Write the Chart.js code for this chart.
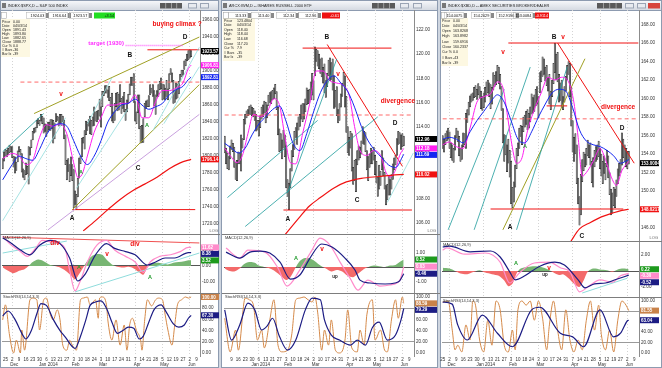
<!DOCTYPE html>
<html>
<head>
<meta charset="utf-8">
<script src="https://cdn.jsdelivr.net/npm/chart.js@4.4.1/dist/chart.umd.min.js"></script>
<style>
  html, body { margin: 0; padding: 0; }
  body { width: 662px; height: 368px; overflow: hidden; position: relative; background: #cfd6e0; }
  canvas { position: absolute; }
</style>
</head>
<body>
<canvas id="chrome" width="662" height="368" style="left:0;top:0;width:662px;height:368px"></canvas>
<script>
// ---------- tick labels ----------
const weeksA = ['25','2','9','16','23','30','6','13','21','27','3','10','18','24','3','10','17','24','31','7','14','21','28','5','12','19','27','2','9'];
const monthsA = ['','Dec','','','','','Jan 2014','','','','Feb','','','','Mar','','','','','Apr','','','','May','','','','Jun',''];
const weeksB = ['9','16','23','30','6','13','21','27','3','10','18','24','3','10','17','24','31','7','14','21','28','5','12','19','27','2','9'];
const monthsB = ['','','','','Jan 2014','','','','Feb','','','','Mar','','','','','Apr','','','','May','','','','Jun',''];
const spxTicks = [1720,1740,1760,1780,1800,1820,1840,1860,1880,1900,1920,1940,1960];
const iwmTicks = [106,108,110,112,114,116,118,120,122];
const xbdTicks = [146,148,150,152,154,156,158,160,162,164,166,168];
const stochTicks = [0,20,40,60,80,100];

// ---------- S&P 500 (day 0 = 21 Nov 2013) ----------
const spxHigh = [1797,1805,1808,1807,1809,1813,1811,1811,1800,1799,1793,1806,1811,1808,1803,1785,1783,1792,1788,1811,
  1810,1819,1829,1833,1834,1842,1844,1842,1849,1847,1845,1838,1837,1840,1840,1843,1843,1842,1839,1850,
  1847,1846,1849,1849,1847,1842,1825,1795,1797,1790,1799,1790,1784,1759,1755,1774,1798,1800,1821,1822,
  1830,1841,1840,1843,1847,1842,1846,1858,1852,1853,1854,1867,1858,1876,1876,1883,1883,1878,1882,1869,
  1874,1852,1862,1874,1875,1873,1884,1868,1870,1875,1855,1866,1873,1885,1893,1893,1897,1864,1852,1872,
  1872,1835,1836,1844,1862,1865,1866,1871,1884,1880,1884,1877,1872,1877,1884,1888,1892,1885,1884,1880,
  1889,1879,1897,1903,1898,1889,1878,1886,1885,1888,1896,1901,1901,1912,1914,1920,1924,1925,1924];
const spxLow = [1785,1794,1800,1799,1802,1804,1805,1798,1787,1780,1783,1793,1805,1801,1781,1775,1772,1778,1779,1767,
  1801,1810,1819,1827,1828,1833,1838,1836,1841,1838,1827,1829,1823,1828,1831,1830,1832,1815,1820,1840,
  1842,1835,1838,1836,1840,1820,1790,1772,1782,1770,1777,1771,1739,1743,1737,1752,1774,1791,1799,1815,
  1808,1825,1830,1835,1826,1825,1835,1836,1841,1840,1843,1847,1834,1858,1871,1874,1874,1869,1865,1858,
  1841,1839,1842,1858,1853,1854,1864,1850,1856,1852,1842,1852,1862,1872,1883,1883,1863,1841,1838,1851,
  1832,1815,1816,1816,1846,1856,1858,1858,1872,1874,1870,1859,1849,1870,1870,1878,1879,1866,1867,1866,
  1870,1866,1879,1896,1887,1862,1863,1867,1868,1873,1888,1893,1895,1902,1906,1912,1913,1915,1917];
const spxClose = 1923.57;
const spxMa10 = [[0,1797],[2,1799],[7,1803],[12,1800],[17,1790],[22,1795],[27,1822],[32,1837],[37,1835],[42,1838],[47,1826],[52,1792],[55,1775],[58,1778],[62,1800],[67,1828],[72,1845],[77,1860],[82,1860],[87,1862],[92,1862],[97,1872],[102,1845],[107,1845],[112,1864],[117,1877],[122,1877],[127,1880],[132,1886],[136,1903],[138,1906.81]];
const spxMa20 = [[0,1772],[7,1790],[12,1800],[17,1797],[22,1795],[27,1808],[32,1825],[37,1835],[42,1838],[47,1835],[52,1818],[57,1800],[62,1790],[67,1800],[72,1818],[77,1840],[82,1852],[87,1860],[92,1862],[97,1867],[102,1860],[107,1855],[112,1858],[117,1862],[122,1872],[127,1878],[132,1882],[136,1890],[138,1892.81]];
const spxMa200 = [[59,1712],[68,1724],[77,1737],[86,1749],[96,1760],[104,1767],[113,1775],[122,1785],[130,1792],[138,1796.14]];
const spxMacd = [[0,18.7],[5,14],[13,9],[18,6],[24,11],[29,16],[36,15],[42,14],[46,10],[49,-2.5],[53,-15.6],[57,-9],[62,2.5],[69,13],[76,16],[82,10],[90,6],[97,2.5],[103,-4],[108,2.5],[115,6],[123,7],[130,9],[136,11.62],[138,11.62]];
const spxSignal = [[0,17.5],[5,15],[13,10],[20,7],[27,13],[35,16],[42,14],[49,5],[55,-9.4],[60,-5.6],[68,7],[76,14],[82,11],[90,9],[97,7],[106,0.6],[112,2.5],[119,5],[126,5],[136,8.38],[138,8.38]];
const spxHist = [[0,-1],[4,-3],[8,-4.5],[12,-3],[16,-2],[19,0],[22,2.5],[26,4],[30,3],[34,1],[38,0],[42,-1],[46,-3],[50,-6],[53,-8.5],[56,-5],[59,-1],[61,2],[65,6],[69,7.5],[73,7],[76,4],[80,1],[84,-0.5],[88,-1],[92,-0.5],[96,-1.5],[100,-4],[103,-5.5],[106,-1],[109,1.5],[113,2],[117,1.5],[121,1],[125,2],[129,2.5],[133,3],[136,3.52],[138,3.52]];
const spxK = [[0,59],[2,86],[5,32],[8,0],[10,23],[13,0],[14,41],[16,5],[20,95],[22,98],[25,95],[27,41],[30,95],[32,98],[35,68],[37,59],[40,77],[42,59],[44,14],[47,5],[49,23],[51,14],[54,5],[57,95],[59,98],[62,100],[64,86],[68,95],[70,62],[71,98],[73,100],[76,86],[77,59],[80,23],[83,59],[86,14],[89,50],[91,5],[93,50],[95,62],[98,40],[101,23],[102,5],[104,59],[106,95],[109,84],[112,95],[114,98],[117,95],[119,68],[121,41],[124,14],[126,50],[128,86],[131,95],[134,100],[136,98],[138,100]];
const spxD = [[0,66],[4,75],[9,60],[14,35],[17,25],[21,40],[25,70],[28,88],[32,85],[37,60],[42,40],[46,28],[50,14],[53,8],[57,30],[61,60],[64,85],[68,91],[72,93],[76,80],[80,55],[84,35],[88,40],[92,46],[96,44],[100,25],[103,30],[107,55],[111,78],[116,86],[120,72],[125,52],[129,46],[133,50],[136,62],[138,67.3]];
const spxLines = {
  olive: [[[23,1850],[144,1940]], [[51,1737],[144,1884]]],
  lilac: [[[33,1713],[144,1849]]],
  teal: [[[0,1805],[30,1850]]],
  cyan: [[[0,1724],[46,1845]], [[54,1762],[92,1856]], [[62,1838],[80,1892]], [[110,1830],[144,1928]], [[118,1838],[144,1905]]],
  red: [[[106,1925],[144,1925]], [[51,1737],[141,1737]]],
  dash: [[[13,1887],[144,1887]]],
  target: [[[90,1930],[132,1930]]]
};
const spxMacdLines = { red: [[[0,18.1],[144,14.4]]], cyan: [[[0,8.1],[47,15.6]], [[53,-16.2],[144,8.1]]] };
const spxNotes = [
  {t:'buying climax ?', i:127.7, v:1955, k:'big'}, {t:'target (1930)', i:75.7, v:1932, k:'tgt'},
  {t:'D', i:133.5, v:1940, k:'let'}, {t:'B', i:93.2, v:1919, k:'let'}, {t:'v', i:42.7, v:1873, k:'red'},
  {t:'A', i:57.4, v:1781, k:'grn'}, {t:'A', i:105.7, v:1836, k:'grn'}, {t:'C', i:99.1, v:1786, k:'let'},
  {t:'A', i:50.8, v:1727, k:'let'}];
const spxMacdNotes = [
  {t:'div', i:38.3, v:14.4, k:'red'}, {t:'div', i:96.9, v:13.8, k:'red'}, {t:'v', i:76.4, v:7.5, k:'red'},
  {t:'A', i:55.9, v:-1.2, k:'grn'}, {t:'A', i:107.9, v:-7.5, k:'grn'}];

// ---------- iShares Russell 2000 (day 0 = 2 Dec 2013) ----------
const iwmHigh = [113.2,112.2,111.8,111.5,112.4,112.9,112.6,112.3,111.0,111.2,
  111.9,111.8,113.3,113.0,114.6,115.0,115.3,115.4,115.7,115.8,
  115.6,115.5,115.3,115.0,114.5,114.5,114.9,115.6,115.8,116.1,
  116.0,115.8,116.6,116.8,116.9,117.0,117.2,117.5,116.9,115.6,
  113.8,113.4,112.9,113.7,113.3,112.4,109.6,109.3,110.5,112.0,
  112.5,113.6,113.9,114.3,114.8,115.0,115.8,115.9,115.9,116.3,
  117.2,117.0,117.1,117.7,118.4,117.8,120.6,120.4,120.3,120.0,
  119.6,119.7,118.9,119.2,117.8,118.4,119.5,119.7,119.3,119.6,
  118.2,117.0,117.3,115.4,115.9,116.7,117.6,118.5,118.2,116.5,
  114.0,113.1,113.6,113.4,110.6,111.2,111.3,112.0,112.4,112.3,
  112.8,114.0,113.6,113.5,112.0,111.5,111.7,112.2,112.0,112.3,
  111.6,111.1,109.8,110.8,110.3,112.0,111.4,110.2,109.1,109.2,
  109.9,109.6,110.0,110.9,111.4,111.6,113.0,113.6,113.5,113.3,113.4,113.2];
const iwmLow = [111.8,110.9,110.5,110.4,111.3,112.1,111.9,110.6,109.6,109.5,
  110.9,110.9,110.3,112.2,112.9,114.2,114.7,114.9,115.0,115.0,
  114.9,114.8,114.5,113.6,113.7,113.2,113.9,114.6,114.8,115.1,
  114.3,114.7,115.7,116.0,115.9,116.2,116.3,116.7,115.4,113.3,
  111.9,112.0,111.3,112.2,111.5,108.9,108.2,107.1,108.9,110.3,
  111.5,112.1,113.1,112.5,113.7,114.0,114.6,114.4,114.6,115.2,
  115.8,115.9,116.0,116.2,116.6,116.2,118.2,119.4,119.0,118.8,
  118.4,118.1,117.6,116.8,116.4,117.3,118.2,117.8,117.9,117.0,
  115.5,115.6,114.9,114.3,114.5,115.6,116.5,117.4,115.6,113.5,
  111.8,111.6,112.2,110.3,109.2,109.5,108.6,110.8,111.2,111.4,
  111.7,112.6,112.5,111.9,110.4,109.5,110.6,110.9,110.9,111.2,
  110.0,109.3,108.2,108.8,109.1,110.4,109.9,108.8,107.5,107.9,
  108.3,108.3,108.8,109.6,110.4,110.8,111.6,112.5,112.6,112.1,112.3,112.4];
const iwmClose = 112.96;
const iwmMaFast = [[0,112.2],[4,111.6],[9,111.0],[13,111.6],[17,113.4],[21,115.0],[26,114.8],[31,115.2],[36,116.3],[40,115.8],[44,113.2],[48,111.0],[52,110.9],[57,113.4],[62,115.8],[67,118.6],[72,118.6],[77,117.8],[82,117.6],[87,117.4],[91,116.6],[95,114.0],[99,112.0],[104,111.6],[109,112.0],[114,111.6],[118,110.2],[121,109.8],[125,110.4],[128,111.6],[131,112.18]];
const iwmMaSlow = [[0,112.6],[5,112.2],[10,111.8],[15,112.2],[20,113.3],[25,114.2],[30,114.8],[35,115.4],[40,115.7],[45,114.4],[50,112.6],[55,112.0],[60,113.4],[65,115.2],[70,116.8],[75,117.8],[80,118.2],[85,117.6],[90,116.9],[95,115.6],[100,114.0],[105,112.8],[110,112.0],[115,111.4],[120,110.8],[125,110.6],[131,111.69]];
const iwmMa200 = [[44,105.0],[55,106.5],[62,107.4],[70,108.1],[80,108.9],[89,109.4],[100,109.7],[113,109.85],[122,109.95],[131,110.02]];
const iwmMacd = [[1,1.31],[11,0.62],[17,1.17],[29.5,1.03],[39,-0.07],[45.6,-1.31],[55,-0.2],[63.9,1.17],[69.7,2.0],[77,1.52],[84.4,0.34],[91.7,-0.76],[97.5,-1.59],[104.8,-0.9],[113.6,-1.31],[120.9,-1.24],[128.2,-0.9],[131,0.03]];
const iwmSignal = [[1,1.03],[11,0.62],[18.5,1.03],[26,1.1],[33,0.97],[40.5,0.34],[48,-0.83],[55,-0.55],[62.4,0.62],[71,1.59],[78.5,1.38],[88,0.62],[95.3,-0.2],[99,-0.9],[106.3,-1.1],[117.3,-1.17],[124.6,-1.1],[128,-0.95],[131,-0.46]];
const iwmHist = [[0,-0.1],[3,-0.25],[7,-0.3],[11,-0.1],[14,0.2],[18,0.35],[22,0.3],[25,0.1],[29,0],[33,-0.1],[37,-0.3],[41,-0.6],[45,-0.9],[48,-0.7],[51,-0.2],[54,0.3],[58,0.6],[62,0.6],[66,0.4],[70,0.1],[74,-0.1],[78,-0.3],[82,-0.2],[86,-0.3],[90,-0.6],[94,-0.7],[97,-0.5],[101,-0.2],[105,0],[109,0.1],[113,0.05],[117,0],[121,0.1],[125,0.15],[128,0.35],[131,0.52]];
const iwmK = [[0,62],[4,2],[8,41],[10,5],[15,98],[18,95],[21,86],[24,23],[27,41],[29,9],[33,59],[36,95],[39,14],[42,2],[46,5],[49,32],[52,95],[55,98],[58,100],[61,95],[64,91],[66,100],[68,73],[71,5],[73,41],[76,14],[78,59],[81,5],[84,0],[88,23],[90,77],[93,9],[97,2],[99,41],[102,14],[104,68],[108,95],[110,23],[114,41],[117,5],[119,2],[122,59],[125,95],[127,62],[130,100],[131,88.59]];
const iwmD = [[0,77],[5,23],[11,50],[17,89],[22,77],[27,41],[31,48],[35,62],[40,30],[46,5],[52,23],[59,77],[64,98],[70,95],[73,59],[78,32],[84,23],[92,14],[97,23],[103,14],[108,45],[113,55],[119,23],[125,32],[129,59],[131,79.29]];
const iwmLines = {
  teal: [[[2,108.1],[68,114.5]], [[15,105.7],[112,114.8]], [[46,108.5],[82,119.6]]],
  cyan: [[[119,107.7],[138,111.8]]],
  red: [[[57,120.5],[122,120.5]], [[43,107.07],[137,107.07]], [[75,120.8],[130,110.7]]],
  dash: [[[0,114.95],[138,114.95]]]
};
const iwmNotes = [
  {t:'B', i:74.8, v:121.4, k:'let'}, {t:'v', i:82.9, v:118.35, k:'red'}, {t:'divergence', i:126.8, v:116.1, k:'big'},
  {t:'D', i:124.6, v:114.3, k:'let'}, {t:'C', i:96.8, v:107.9, k:'let'}, {t:'A', i:46.3, v:106.3, k:'let'}];
const iwmMacdNotes = [{t:'A', i:52.2, v:0.62, k:'grn'}, {t:'v', i:71.2, v:1.24, k:'red'}, {t:'up', i:80.7, v:-0.69, k:'sml'}];

// ---------- AMEX broker/dealer index (day 0 = 25 Nov 2013) ----------
const xbdHigh = [156.0,155.6,156.2,156.5,156.8,156.4,155.2,155.0,154.6,156.0,
  156.8,156.5,155.9,154.6,155.0,156.3,156.2,158.4,158.8,159.6,
  160.3,160.5,160.6,161.2,161.4,161.0,161.6,161.3,160.8,160.2,
  160.6,161.2,161.8,162.0,161.7,161.5,161.2,162.8,162.5,162.9,
  163.6,163.4,162.6,161.3,158.9,156.1,156.0,155.0,155.6,154.4,
  153.2,150.4,151.0,152.8,154.6,155.2,156.8,157.1,157.0,158.0,
  158.2,158.6,158.8,158.4,159.1,160.5,160.1,160.4,161.0,161.3,
  160.2,162.8,163.0,164.5,164.3,163.4,163.6,162.3,162.6,160.8,
  162.0,163.8,166.0,164.8,165.0,162.6,161.7,162.0,160.2,161.3,
  162.4,163.6,164.0,163.8,161.2,157.6,155.8,156.2,155.0,151.4,
  149.4,151.8,153.4,154.2,154.0,154.6,155.5,155.0,155.2,153.2,
  153.6,154.4,154.8,155.0,155.4,154.6,154.0,153.2,153.8,153.0,
  154.4,153.8,152.0,150.2,149.8,150.4,150.2,151.2,152.4,153.0,
  153.4,156.3,155.6,155.0,154.6,154.3,154.3];
const xbdLow = [154.6,154.2,155.0,155.4,155.6,154.6,153.6,153.3,153.1,154.4,
  155.7,155.3,153.8,153.2,153.4,154.8,155.0,154.6,157.4,158.2,
  159.1,159.6,159.8,160.1,160.2,159.9,160.4,160.0,158.9,158.7,
  159.0,159.6,160.4,160.6,160.2,158.9,159.4,160.9,161.3,161.5,
  161.9,161.6,161.0,158.7,155.2,153.2,153.9,152.1,153.0,151.5,
  148.6,148.2,148.8,150.4,152.4,153.8,154.6,155.9,155.0,156.4,
  156.9,157.2,156.6,156.8,157.5,158.3,158.4,158.6,159.2,159.4,
  157.9,160.6,161.8,162.4,162.6,161.9,161.4,160.8,159.4,158.8,
  160.2,161.6,162.8,162.0,161.8,159.6,159.8,159.0,158.8,159.6,
  160.8,162.0,162.6,160.2,157.0,154.2,153.2,154.0,150.8,148.6,
  146.3,147.4,151.0,152.2,152.6,152.8,153.8,153.6,152.8,150.9,
  150.4,152.6,153.2,153.4,153.7,152.4,151.6,150.8,151.9,151.2,
  152.6,151.4,149.6,147.4,147.6,148.4,148.2,149.4,150.8,151.6,
  152.0,152.8,153.6,153.2,152.6,152.4,152.9];
const xbdClose = 153.0084;
const xbdMaFast = [[0,155.0],[5,155.3],[10,154.8],[15,154.6],[20,156.8],[25,159.6],[30,160.2],[35,160.5],[40,161.8],[44,161.2],[47,158.5],[50,155.5],[54,153.0],[58,153.6],[62,156.5],[67,158.8],[72,160.6],[77,162.3],[82,162.0],[87,162.3],[92,161.8],[96,159.5],[99,155.8],[102,151.6],[106,152.2],[110,153.2],[115,154.6],[119,153.4],[123,151.6],[127,150.6],[131,152.2],[136,153.2]];
const xbdMaSlow = [[0,155.6],[5,155.8],[10,155.6],[15,155.2],[20,156.4],[25,157.6],[30,158.6],[35,159.6],[40,160.4],[45,159.6],[50,157.6],[55,155.6],[60,155.2],[65,156.4],[70,158.0],[75,159.4],[80,160.6],[85,161.0],[90,160.8],[95,159.0],[100,156.6],[105,155.4],[110,155.0],[115,154.8],[120,154.4],[125,153.8],[130,153.0],[136,153.4]];
const xbdMa200 = [[93,144.4],[100,145.9],[108,146.6],[116,147.2],[124,147.6],[131,147.9],[136,148.0217]];
const xbdMacd = [[0,2.6],[3,2.9],[16,2.1],[31,2.25],[42,1.1],[49,-1.5],[56,-0.25],[67,1.0],[78,1.1],[86,0.4],[93,-0.1],[100,-2.6],[108,-1.75],[115,-1.1],[124,-1.4],[130,-0.6],[136,-0.30]];
const xbdSignal = [[0,3.0],[5,3.1],[20,2.4],[35,2.5],[42,1.75],[49,-0.1],[53,-1.1],[60,-0.6],[71,0.6],[82,1.1],[89,0.75],[99,-1.1],[104,-2.1],[111,-1.6],[119,-1.5],[126,-1.1],[136,-0.52]];
const xbdHist = [[0,0.4],[5,0.3],[9,0],[13,-0.3],[18,-0.4],[23,-0.1],[27,0.1],[31,-0.2],[36,-0.4],[41,-0.6],[45,-1.2],[48,-1.9],[51,-1.6],[54,-0.3],[57,0.3],[62,0.5],[67,0.6],[72,0.5],[77,0.2],[81,-0.2],[85,-0.5],[88,-0.4],[92,-0.9],[96,-1.6],[100,-2.0],[103,-1.2],[106,-0.1],[110,0.3],[115,0.2],[120,0.1],[124,-0.1],[128,0.2],[132,0.3],[136,0.22]];
const xbdK = [[0,98],[4,100],[7,44],[9,6],[11,15],[14,2],[17,54],[20,25],[22,100],[24,92],[27,25],[30,2],[33,63],[36,15],[39,100],[42,83],[45,15],[48,2],[51,44],[53,6],[55,83],[58,100],[61,92],[64,100],[67,63],[70,100],[73,67],[76,6],[78,54],[81,100],[84,44],[87,6],[90,83],[93,25],[96,2],[99,25],[102,6],[105,63],[108,100],[111,44],[114,92],[116,35],[119,6],[122,44],[125,2],[128,63],[131,100],[134,92],[136,81.55]];
const xbdD = [[0,98],[7,94],[11,54],[18,25],[29,73],[40,38],[51,12],[65,83],[71,88],[86,38],[95,31],[103,12],[115,83],[125,31],[130,38],[135,62],[136,63.04]];
const xbdLines = {
  olive: [[[44,145.8],[104,164.3]]],
  teal: [[[4,145.8],[45,161]], [[23,145.8],[64,163.4]], [[54,145.8],[91,163.4]]],
  red: [[[48,166],[143,166]], [[35,148.05],[132,148.05]], [[76,159.2],[91,159.2]], [[84,166],[140,153]]],
  dash: [[[0,157.8],[143,157.8]]]
};
const xbdMacdLines = { cyan: [[[102,-2.75],[135,-0.9]]] };
const xbdNotes = [
  {t:'B', i:81.4, v:166.6, k:'let'}, {t:'v', i:88, v:166.6, k:'red'}, {t:'v', i:44.1, v:165.0, k:'red'},
  {t:'divergence', i:128.2, v:159.1, k:'big'}, {t:'D', i:131.1, v:156.8, k:'let'}, {t:'A', i:60.2, v:154.8, k:'grn'},
  {t:'A', i:49.2, v:146.1, k:'let'}, {t:'C', i:101.8, v:145.1, k:'let'}];
const xbdMacdNotes = [{t:'A', i:53.6, v:1.0, k:'grn'}, {t:'v', i:77.7, v:0.375, k:'red'}, {t:'up', i:74.8, v:-0.5, k:'sml'}];

// ---------- window texts ----------
const spxInfo = [['Price','0.00'],['Date','04/03/14'],['Open','1891.43'],['High','1893.80'],['Low','1882.65'],['Close','1888.77'],['Cur %','0.0'],['# Bars','-36'],['Bar Ix','-39']];
const iwmInfo = [['Price','123.4804'],['Date','04/03/14'],['Open','118.40'],['High','118.44'],['Low','116.68'],['Close','117.20'],['Cur %','7.9'],['# Bars','-35'],['Bar Ix','-39']];
const xbdInfo = [['Price','0.00'],['Date','04/03/14'],['Open','163.8268'],['High','163.8982'],['Low','159.6916'],['Close','160.2337'],['Cur %','0.0'],['# Bars','-43'],['Bar Ix','-39']];
const spxQuote = ['1924.03','1916.64','1923.57'], spxChange = '+3.54';
const iwmQuote = ['113.33','113.40','112.34','112.96'], iwmChange = '-0.61';
const xbdQuote = ['154.0075','154.2629','152.9196','153.0084'], xbdChange = '-0.9114';

// ---------- drawing ----------
const F = '"Liberation Sans", Arial, sans-serif';
Chart.defaults.font.family = F;
Chart.defaults.color = '#333';
const C = { mag:'#ff1ef0', blue:'#1426f0', red:'#f01212', pink:'#ff8ccb', navy:'#1c1c84', green:'#1d9a1d',
  hUp:'#78b673', hDn:'#f36a6a', orange:'#d58a4a', olive:'#a0a024', lilac:'#c9a0de', teal:'#1e9c9c', cyan:'#8fdcdc' };
const NOTE = { let:['bold 6.5px '+F,'#111'], red:['bold 6.5px '+F,'#f01010'], grn:['bold 5.5px '+F,'#1f9a2a'],
  big:['bold 6.5px '+F,'#f01010'], tgt:['bold 6px '+F,'#ff30ff'], sml:['bold 4.5px '+F,'#222'] };

const pts = a => a.map(p => ({ x: p[0], y: p[1] }));
const last = a => a[a.length - 1][1];
function ln(data, color, width, extra) {
  return Object.assign({ type: 'line', data: pts(data), borderColor: color, borderWidth: width,
    pointRadius: 0, fill: false, tension: 0, order: 2 }, extra || {});
}
const smooth = { cubicInterpolationMode: 'monotone', order: 1 };
function segs(list, color, width, extra) { return (list || []).map(s => ln(s, color, width, extra)); }

function addCanvas(left, top, w, h) {
  const c = document.createElement('canvas');
  c.width = w; c.height = h;
  c.style.left = left + 'px'; c.style.top = top + 'px';
  c.style.width = w + 'px'; c.style.height = h + 'px';
  document.body.appendChild(c);
  return c;
}

function decoPlugin(P, d) {
  return { id: 'deco', afterDraw(chart) {
    const ctx = chart.ctx, a = chart.chartArea, xs = chart.scales.x, ys = chart.scales.y;
    ctx.save();
    if (d.sep) {
      ctx.strokeStyle = '#7d7d7d'; ctx.lineWidth = 1;
      ctx.beginPath(); ctx.moveTo(0, 0.5); ctx.lineTo(chart.width, 0.5); ctx.stroke();
    }
    if (d.label) {
      ctx.font = '4px ' + F; ctx.fillStyle = '#333'; ctx.textAlign = 'left'; ctx.textBaseline = 'top';
      ctx.fillText(d.label, a.left + 1, 2);
    }
    if (d.log) {
      ctx.font = '4px ' + F; ctx.fillStyle = '#666'; ctx.textAlign = 'right'; ctx.textBaseline = 'bottom';
      ctx.fillText('LOG', chart.width - P.padR - 2, chart.height - 1);
    }
    (d.notes || []).forEach(n => {
      const st = NOTE[n.k];
      ctx.font = st[0]; ctx.fillStyle = st[1]; ctx.textAlign = 'center'; ctx.textBaseline = 'middle';
      ctx.fillText(n.t, xs.getPixelForValue(n.i), ys.getPixelForValue(n.v));
    });
    if (d.info) {
      const r = P.infoBox;
      ctx.fillStyle = '#fdf8e2'; ctx.fillRect(r[0], r[1], r[2], r[3]);
      ctx.font = '3.6px ' + F; ctx.fillStyle = '#222'; ctx.textAlign = 'left'; ctx.textBaseline = 'middle';
      d.info.forEach((row, k) => {
        const y = r[1] + 2.5 + k * r[4];
        ctx.fillText(row[0], r[0] + 1, y); ctx.fillText(row[1], r[0] + r[5], y);
      });
    }
    if (d.quote) {
      ctx.strokeStyle = '#9a9a9a'; ctx.lineWidth = 0.5;
      ctx.strokeRect(1.5, 2.5, 5, 6);
      ctx.font = '3.8px ' + F; ctx.textBaseline = 'middle'; ctx.textAlign = 'right';
      d.quote.forEach((v, k) => {
        const rx = P.quoteAt[k];
        ctx.strokeStyle = '#b0b0b0'; ctx.strokeRect(rx - 18.5, 2.5, 19, 6);
        ctx.fillStyle = '#111'; ctx.fillText(v, rx - 0.7, 5.6);
        ctx.fillStyle = '#8a8a8a'; ctx.fillRect(rx + 1, 3, 3, 5);
      });
      const c = P.change;
      ctx.fillStyle = c[2]; ctx.fillRect(c[0], 2.5, c[1], 6);
      ctx.fillStyle = c[3]; ctx.fillText(d.change, c[0] + c[1] - 1, 5.6);
    }
    if (d.boxes) {
      const bx = d.boxes.map(b => ({ v: b[0], c: b[1], dec: b[2] || 2, y: ys.getPixelForValue(b[0]) }))
        .sort((p, q) => p.y - q.y);
      for (let k = 1; k < bx.length; k++) if (bx[k].y - bx[k - 1].y < 6.5) bx[k].y = bx[k - 1].y + 6.5;
      ctx.font = 'bold 4.5px ' + F; ctx.textAlign = 'left'; ctx.textBaseline = 'middle';
      bx.forEach(b => {
        ctx.fillStyle = b.c; ctx.fillRect(a.right + 1, b.y - 3, P.axisW - 2, 6);
        ctx.fillStyle = '#fff'; ctx.fillText(b.v.toFixed(b.dec), a.right + 2, b.y + 0.3);
      });
    }
    if (d.dates) {
      ctx.font = '4.5px ' + F; ctx.fillStyle = '#333'; ctx.textAlign = 'center'; ctx.textBaseline = 'top';
      P.weeks.forEach((w, k) => {
        const x = xs.getPixelForValue(P.start + 5 * k);
        if (x < a.left - 1 || x > a.right) return;
        ctx.fillText(w, x, a.bottom + 1.6);
        if (P.months[k]) ctx.fillText(P.months[k], x + 2, a.bottom + 6.6);
      });
    }
    ctx.restore();
  }};
}

function pane(P, kind, top, h, datasets, y, d) {
  const c = addCanvas(P.left, top, P.w, h);
  const monthIdx = [];
  P.weeks.forEach((w, k) => { if (P.months[k]) monthIdx.push(P.start + 5 * k); });
  return new Chart(c, {
    type: 'bar',
    data: { datasets },
    options: {
      animation: false, responsive: false, devicePixelRatio: 1, events: [],
      layout: { padding: { left: 2, right: P.padR, top: 0, bottom: 0 } },
      plugins: { legend: { display: false }, tooltip: { enabled: false } },
      scales: {
        x: { type: 'linear', min: -0.5, max: P.n - 0.5, offset: false,
          afterBuildTicks: s => { s.ticks = monthIdx.map(v => ({ value: v })); },
          afterFit: s => { s.height = kind === 'stoch' ? 11 : 0; s.paddingLeft = 0; s.paddingRight = 0; },
          ticks: { display: false },
          grid: { drawTicks: false, color: '#d4d4d4', lineWidth: 1, offset: false },
          border: { display: false, dash: [1, 2] } },
        y: { position: 'right', min: y.min, max: y.max,
          afterBuildTicks: s => { s.ticks = y.ticks.map(v => ({ value: v })); },
          afterFit: s => { s.width = P.axisW; s.paddingTop = 0; s.paddingBottom = 0; },
          ticks: { callback: v => Number(v).toFixed(2), padding: 2, font: { size: 4.6 }, color: '#333', autoSkip: false },
          grid: { drawTicks: false, color: y.grid || 'transparent', lineWidth: 1 },
          border: { display: true, color: '#8c8c8c' } }
      }
    },
    plugins: [decoPlugin(P, d)]
  });
}

const zeroGrid = ctx => (ctx.tick && ctx.tick.value === 0) ? '#555' : 'transparent';
const stochGrid = ctx => (ctx.tick && (ctx.tick.value === 20 || ctx.tick.value === 80)) ? '#9a9a9a' : 'transparent';

function buildPanel(P, S) {
  const bars = {
    type: 'bar', data: S.high.map((hv, i) => ({ x: i, y: [S.low[i], hv] })),
    backgroundColor: '#7f7f7f', borderColor: '#222', borderWidth: 0.5, borderSkipped: false,
    barPercentage: 1, categoryPercentage: 1, order: 10
  };
  const L = S.lines;
  const priceSets = [bars]
    .concat(segs(L.dash, '#ff6a6a', 1, { borderDash: [4, 3] }))
    .concat(segs(L.target, '#ff66ff', 1.6, { borderDash: [1, 1] }))
    .concat(segs(L.cyan, C.cyan, 0.8))
    .concat(segs(L.teal, C.teal, 0.8))
    .concat(segs(L.lilac, C.lilac, 1))
    .concat(segs(L.olive, C.olive, 1))
    .concat(segs(L.red, C.red, 1))
    .concat([ln(S.ma200, C.red, 1.2, smooth), ln(S.maSlow, C.blue, 1, smooth), ln(S.maFast, C.mag, 1, smooth)]);
  const pb = [[S.close, '#000', S.dec]];
  if (S.showMaBoxes) { pb.push([last(S.maFast), C.mag]); pb.push([last(S.maSlow), C.blue]); }
  pb.push([last(S.ma200), C.red, S.dec]);
  pane(P, 'price', P.tops[0], P.hts[0], priceSets, { min: S.pMin, max: S.pMax, ticks: S.pTicks },
    { notes: S.notes, boxes: pb, info: S.info, quote: S.quote, change: S.change, log: true });

  const ML = S.macdLines || {};
  const macdSets = [
    ln(S.hist, 'rgba(0,0,0,0)', 0, { fill: { target: { value: 0 }, above: C.hUp, below: C.hDn }, tension: 0.3, order: 5 })
  ].concat(segs(ML.red, '#f05050', 1)).concat(segs(ML.cyan, C.cyan, 1))
   .concat([ln(S.signal, C.navy, 1.2, smooth), ln(S.macd, C.pink, 1.2, smooth)]);
  pane(P, 'macd', P.tops[1], P.hts[1], macdSets, { min: S.mMin, max: S.mMax, ticks: S.mTicks, grid: zeroGrid },
    { sep: true, label: 'MACD(12,26,9)', notes: S.macdNotes,
      boxes: [[last(S.hist), C.green], [last(S.macd), C.pink], [last(S.signal), C.navy]] });

  const stochSets = [ln(S.d, C.navy, 1.2, smooth), ln(S.k, C.orange, 1, smooth)];
  pane(P, 'stoch', P.tops[2], P.hts[2], stochSets, { min: S.sMin, max: S.sMax, ticks: stochTicks, grid: stochGrid },
    { sep: true, label: 'StochRSI(14,14,3,3)', dates: true,
      boxes: [[last(S.k), '#c8824a'], [last(S.d), C.navy]] });
}

const P1 = { left: 0, w: 220, padR: 0, axisW: 20, n: 145, start: 2, weeks: weeksA, months: monthsA,
  tops: [10, 234, 293], hts: [224, 59, 74], infoBox: [1, 9, 29, 38, 4.1, 12], quoteAt: [45, 67, 88], change: [94, 21, '#22dd22', '#111'] };
const P2 = { left: 222, w: 218, padR: 2, axisW: 24, n: 139, start: 5, weeks: weeksB, months: monthsB,
  tops: [10, 234, 293], hts: [224, 59, 74], infoBox: [1, 8, 32, 43, 4.6, 14], quoteAt: [25, 48, 73, 95], change: [100, 18, '#ee1111', '#fff'] };
const P3 = { left: 440, w: 222, padR: 2, axisW: 21, n: 144, start: 0, weeks: weeksA, months: monthsA,
  tops: [10, 241, 297], hts: [231, 56, 70], infoBox: [1, 8, 27, 48, 5.3, 12], quoteAt: [23, 50, 75, 92], change: [95, 14, '#ee1111', '#fff'] };

// ---------- window chrome ----------
const WIN = [
  { x: 0, w: 219, title: 'INDEX:$SPX,D -- S&P 500 INDEX', dark: [160, 22], btn: [188, 200], close: false },
  { x: 221, w: 217, title: 'ARCX:IWM,D -- ISHARES RUSSELL 2000 ETF', dark: [372, 23], btn: [400, 413], close: false },
  { x: 440, w: 222, title: 'INDEX:$XBD,D -- AMEX SECURITIES BROKER/DEALER', dark: [597, 25], btn: [625, 637], close: true }
];
const cx = document.getElementById('chrome').getContext('2d');
cx.fillStyle = '#cfd6e0'; cx.fillRect(0, 0, 662, 368);
WIN.forEach(w => {
  cx.fillStyle = '#ffffff'; cx.fillRect(w.x, 0, w.w, 368);
  const g = cx.createLinearGradient(0, 0, 0, 10);
  g.addColorStop(0, '#f9fafc'); g.addColorStop(1, '#d5dae2');
  cx.fillStyle = g; cx.fillRect(w.x, 0, w.w, 10);
  cx.strokeStyle = '#8d9bb0'; cx.lineWidth = 1;
  cx.strokeRect(w.x + 0.5, 0.5, w.w - 1, 367);
  cx.beginPath(); cx.moveTo(w.x, 10.5); cx.lineTo(w.x + w.w, 10.5); cx.stroke();
  cx.fillStyle = '#777'; cx.fillRect(w.x + 2, 3, 4, 5);
  cx.font = '3.9px ' + F; cx.fillStyle = '#222'; cx.textBaseline = 'middle'; cx.textAlign = 'left';
  cx.fillText(w.title, w.x + 8, 5.5);
  cx.fillStyle = '#5a5a5a'; cx.fillRect(w.dark[0], 3, w.dark[1], 5.5);
  cx.fillStyle = '#c9c9c9';
  for (let k = 1; k < 4; k++) cx.fillRect(w.dark[0] + k * w.dark[1] / 4, 3, 0.6, 5.5);
  w.btn.forEach(bx => {
    cx.fillStyle = '#e8ebf0'; cx.fillRect(bx, 3, 9, 5.5);
    cx.strokeStyle = '#9aa4b4'; cx.strokeRect(bx + 0.5, 3.5, 8, 4.5);
  });
  if (w.close) { cx.fillStyle = '#d8453c'; cx.fillRect(648, 3, 12, 5.5); }
});

// ---------- panels ----------
buildPanel(P1, { high: spxHigh, low: spxLow, close: spxClose, dec: 2, showMaBoxes: true,
  maFast: spxMa10, maSlow: spxMa20, ma200: spxMa200, lines: spxLines, notes: spxNotes,
  pMin: 1708.3, pMax: 1971.8, pTicks: spxTicks, info: spxInfo, quote: spxQuote, change: spxChange,
  macd: spxMacd, signal: spxSignal, hist: spxHist, macdLines: spxMacdLines, macdNotes: spxMacdNotes,
  mMin: -16.9, mMax: 20, mTicks: [-10, 0, 10], k: spxK, d: spxD, sMin: -5.4, sMax: 107.1 });
buildPanel(P2, { high: iwmHigh, low: iwmLow, close: iwmClose, dec: 2, showMaBoxes: true,
  maFast: iwmMaFast, maSlow: iwmMaSlow, ma200: iwmMa200, lines: iwmLines, notes: iwmNotes,
  pMin: 105.08, pMax: 123.66, pTicks: iwmTicks, info: iwmInfo, quote: iwmQuote, change: iwmChange,
  macd: iwmMacd, signal: iwmSignal, hist: iwmHist, macdLines: {}, macdNotes: iwmMacdNotes,
  mMin: -1.79, mMax: 2.28, mTicks: [-1, 0, 1], k: iwmK, d: iwmD, sMin: -5.4, sMax: 107.1 });
buildPanel(P3, { high: xbdHigh, low: xbdLow, close: xbdClose, dec: 4, showMaBoxes: false,
  maFast: xbdMaFast, maSlow: xbdMaSlow, ma200: xbdMa200, lines: xbdLines, notes: xbdNotes,
  pMin: 144.59, pMax: 169.57, pTicks: xbdTicks, info: xbdInfo, quote: xbdQuote, change: xbdChange,
  macd: xbdMacd, signal: xbdSignal, hist: xbdHist, macdLines: xbdMacdLines, macdNotes: xbdMacdNotes,
  mMin: -3.25, mMax: 3.75, mTicks: [-2, 0, 2], k: xbdK, d: xbdD, sMin: -5.8, sMax: 107.7 });
</script>
</body>
</html>
